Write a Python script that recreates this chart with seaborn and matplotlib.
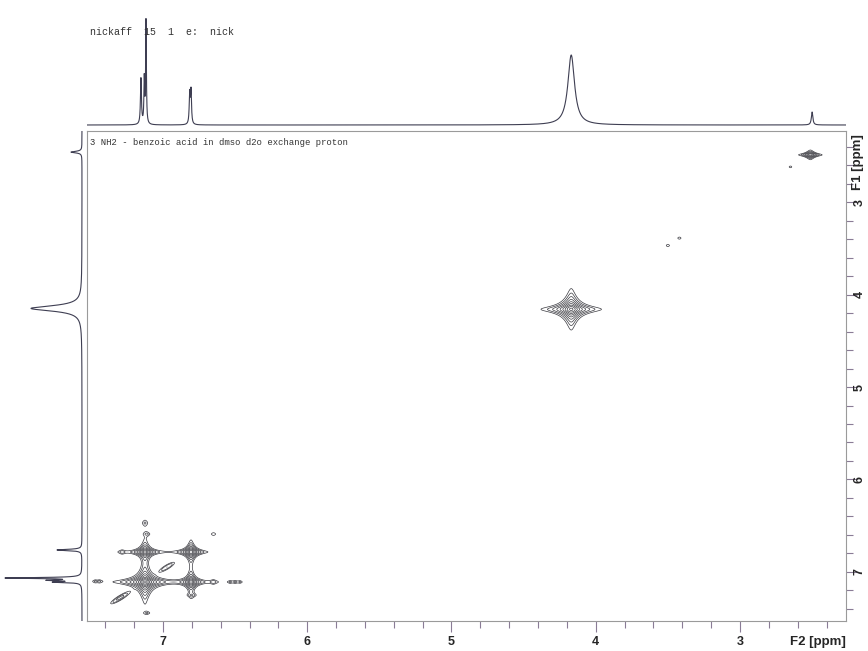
import numpy as np
import pandas as pd
import matplotlib
matplotlib.use("Agg")
import matplotlib.pyplot as plt
import seaborn as sns

# ---------------- data ----------------
# F2 (top) projection peaks: position (ppm), height, half-width (ppm)
top_ppm = [7.153, 7.130, 7.118, 6.815, 6.806, 4.170, 2.500]
top_height = [46, 44, 104, 30, 33, 70, 13]
top_hw = [0.004, 0.003, 0.003, 0.004, 0.004, 0.028, 0.006]

# F1 (left) projection peaks
left_ppm = [2.460, 4.150, 6.762, 7.065, 7.090, 7.110]
left_height = [11, 51, 25, 75, 30, 26]
left_hw = [0.010, 0.035, 0.008, 0.006, 0.006, 0.006]

# 2D cross/diagonal peaks: F2, F1, amplitude, half-widths
pk_f2 = [4.170, 2.512, 7.125, 6.806, 7.125, 6.806,
         7.284, 7.110, 6.650, 6.650, 6.535, 6.500, 6.466,
         7.470, 7.440, 7.125, 6.800, 7.110, 3.500, 3.420, 2.650]
pk_f1 = [4.160, 2.490, 7.108, 6.784, 6.784, 7.108,
         6.784, 6.590, 6.590, 7.108, 7.108, 7.108, 7.108,
         7.100, 7.100, 6.470, 7.250, 7.443, 3.470, 3.390, 2.620]
pk_amp = [1.0, 0.30, 1.6, 0.8, 0.7, 0.7,
          0.035, 0.03, 0.03, 0.035, 0.026, 0.026, 0.026,
          0.026, 0.026, 0.03, 0.04, 0.03, 0.026, 0.026, 0.024]
pk_w2 = [0.030, 0.022, 0.024, 0.018, 0.020, 0.018,
         0.02, 0.02, 0.02, 0.02, 0.015, 0.015, 0.015,
         0.015, 0.015, 0.02, 0.025, 0.02, 0.02, 0.02, 0.02]
pk_w1 = [0.032, 0.014, 0.026, 0.020, 0.020, 0.022,
         0.02, 0.02, 0.02, 0.02, 0.015, 0.015, 0.015,
         0.015, 0.015, 0.03, 0.02, 0.015, 0.02, 0.02, 0.02]

# diagonal ridge features: F2, F1, amplitude, length, width (ppm)
rg_f2 = [7.298, 6.972]
rg_f1 = [7.280, 6.946]
rg_amp = [0.06, 0.05]
rg_len = [0.06, 0.05]
rg_wid = [0.014, 0.014]

x_ticks = [7, 6, 5, 4, 3]
y_ticks = [3, 4, 5, 6, 7]
title_top = "nickaff  15  1  e:  nick"
title_inner = "3 NH2 - benzoic acid in dmso d2o exchange proton"

# ---------------- layout ----------------
sns.set_style("white")
W, H = 868, 651
fig = plt.figure(figsize=(W / 100, H / 100), dpi=100)


def rect(x0, y0, x1, y1):
    return [x0 / W, 1 - y1 / H, (x1 - x0) / W, (y1 - y0) / H]


X_L, X_R = 7.527, 2.265
Y_T, Y_B = 2.232, 7.530

axt = fig.add_axes(rect(87, 14, 846, 128))
axl = fig.add_axes(rect(0, 131, 85, 621))
ax = fig.add_axes(rect(87, 131, 846, 621))

line_col = "#3e3e52"

# top projection
xs = np.linspace(X_L, X_R, 9000)
ys_top = np.zeros_like(xs)
for p, h, w in zip(top_ppm, top_height, top_hw):
    ys_top += h / (1 + ((xs - p) / w) ** 2)
sns.lineplot(x=xs, y=ys_top, ax=axt, color=line_col, lw=0.8,
             estimator=None, sort=False)
axt.set_xlim(X_L, X_R)
axt.set_ylim(-3, 111)
axt.axis("off")

# left projection
yl = np.linspace(Y_T, Y_B, 7000)
xl = np.zeros_like(yl)
for p, h, w in zip(left_ppm, left_height, left_hw):
    xl += h / (1 + ((yl - p) / w) ** 2)
sns.lineplot(x=xl, y=yl, ax=axl, color=line_col, lw=0.8,
             estimator=None, sort=False, orient="y")
axl.set_xlim(82, -3)
axl.set_ylim(Y_B, Y_T)
axl.axis("off")

# 2D contour map
F2 = np.linspace(X_L, X_R, 1600)
F1 = np.linspace(Y_T, Y_B, 1100)
G2, G1 = np.meshgrid(F2, F1)
Z = np.zeros_like(G2)
for f2, f1, a, w2, w1 in zip(pk_f2, pk_f1, pk_amp, pk_w2, pk_w1):
    Z += a / ((1 + ((G2 - f2) / w2) ** 2) * (1 + ((G1 - f1) / w1) ** 2))
for f2, f1, a, L, S in zip(rg_f2, rg_f1, rg_amp, rg_len, rg_wid):
    u = ((G2 - f2) + (G1 - f1)) / np.sqrt(2)
    v = ((G2 - f2) - (G1 - f1)) / np.sqrt(2)
    Z += a * np.exp(-0.5 * (u / L) ** 2 - 0.5 * (v / S) ** 2)

levels = 0.02 * 1.6 ** np.arange(10)
ax.contour(F2, F1, Z, levels=levels, colors="#3a3a40", linewidths=0.5)
ax.set_xlim(X_L, X_R)
ax.set_ylim(Y_B, Y_T)

tick_col = "#8a7c96"
for s in ax.spines.values():
    s.set_color("#9a9a9a")
    s.set_linewidth(0.8)

ax.set_xticks(x_ticks)
ax.set_xticks(np.arange(2.4, 7.6, 0.2), minor=True)
ax.set_yticks(y_ticks)
ax.set_yticks(np.arange(2.4, 7.6, 0.2), minor=True)
ax.yaxis.tick_right()
ax.tick_params(axis="both", which="major", direction="out", length=8,
               width=0.8, color=tick_col, labelsize=9)
ax.tick_params(axis="x", which="major", pad=3)
ax.tick_params(axis="y", which="major", pad=2)
ax.tick_params(axis="both", which="minor", direction="out", length=5,
               width=0.8, color=tick_col)
ax.tick_params(axis="x", which="both", bottom=True, top=False)
ax.tick_params(axis="y", which="both", right=True, left=False,
               labelright=True, labelleft=False)
tick_font = ["Liberation Sans Narrow", "Liberation Sans", "DejaVu Sans"]
for lab in ax.get_xticklabels():
    lab.set_fontfamily(tick_font)
    lab.set_fontweight("bold")
for lab in ax.get_yticklabels():
    lab.set_fontfamily(tick_font)
    lab.set_fontweight("bold")
    lab.set_rotation(90)
    lab.set_va("center")
    lab.set_ha("center")

fig.text(846 / W, 1 - 642 / H, "F2 [ppm]", ha="right", va="center",
         fontsize=9.5, fontweight="bold", family=tick_font)
fig.text(858 / W, 1 - 162 / H, "F1 [ppm]", ha="center", va="center",
         rotation=90, fontsize=9.5, fontweight="bold", family=tick_font)

fig.text(90 / W, 1 - 32 / H, title_top, ha="left", va="center",
         fontsize=7.2, family=["Liberation Mono", "DejaVu Sans Mono"],
         color="#333333")
ax.text(0.004, 0.985, title_inner, transform=ax.transAxes, ha="left",
        va="top", fontsize=6.4, family=["Liberation Mono", "DejaVu Sans Mono"],
        color="#333333")

fig.savefig("out.png", dpi=100)
